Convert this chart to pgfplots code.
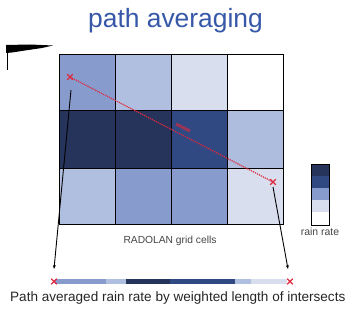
\documentclass[border=0pt]{standalone}
\usepackage{pgfplots}
\pgfplotsset{compat=1.18}
\usepackage{fontspec}
\setmainfont{Liberation Sans}
\usetikzlibrary{arrows.meta}
\definecolor{titleblue}{RGB}{55,88,168}
\definecolor{cA}{RGB}{38,52,92}
\definecolor{cB}{RGB}{48,73,130}
\definecolor{cC}{RGB}{135,155,205}
\definecolor{cD}{RGB}{176,190,223}
\definecolor{cE}{RGB}{216,222,237}
\definecolor{redx}{RGB}{225,40,60}
\definecolor{txtgray}{RGB}{70,70,70}
\begin{document}
\begin{tikzpicture}
\begin{axis}[scale only axis, width=346bp, height=315bp,
  xmin=0, xmax=346, ymin=0, ymax=315, y dir=reverse,
  hide axis, clip=false]
% background to fix the picture size
\addplot[draw=none, fill=white] coordinates {(0,0) (346,0) (346,315) (0,315)} --cycle;
% black swoosh top left
\addplot[draw=none, fill=black] coordinates {(6,45) (30,44.5) (53,45.5) (42,48) (25,50.5) (12,52.5) (6,53)} --cycle;
\addplot[black, line width=0.8pt] coordinates {(7,52) (7,70)};
% grid cells, row 1
\addplot[fill=cC, draw=black, line width=1pt] coordinates {(59,54) (115,54) (115,110) (59,110)} --cycle;
\addplot[fill=cD, draw=black, line width=1pt] coordinates {(115,54) (171,54) (171,110) (115,110)} --cycle;
\addplot[fill=cE, draw=black, line width=1pt] coordinates {(171,54) (227,54) (227,110) (171,110)} --cycle;
\addplot[fill=white, draw=black, line width=1pt] coordinates {(227,54) (283,54) (283,110) (227,110)} --cycle;
% row 2
\addplot[fill=cA, draw=black, line width=1pt] coordinates {(59,110) (115,110) (115,168) (59,168)} --cycle;
\addplot[fill=cA, draw=black, line width=1pt] coordinates {(115,110) (171,110) (171,168) (115,168)} --cycle;
\addplot[fill=cB, draw=black, line width=1pt] coordinates {(171,110) (227,110) (227,168) (171,168)} --cycle;
\addplot[fill=cD!95!cC, draw=black, line width=1pt] coordinates {(227,110) (283,110) (283,168) (227,168)} --cycle;
% row 3
\addplot[fill=cD, draw=black, line width=1pt] coordinates {(59,168) (115,168) (115,224) (59,224)} --cycle;
\addplot[fill=cC, draw=black, line width=1pt] coordinates {(115,168) (171,168) (171,224) (115,224)} --cycle;
\addplot[fill=cC, draw=black, line width=1pt] coordinates {(171,168) (227,168) (227,224) (171,224)} --cycle;
\addplot[fill=cE, draw=black, line width=1pt] coordinates {(227,168) (283,168) (283,224) (227,224)} --cycle;
% red path
\addplot[redx, densely dotted, line width=1.2pt] coordinates {(70,77) (273,182)};
\addplot[redx, line width=3pt, opacity=0.6] coordinates {(176,124) (190,131)};
\addplot[redx, only marks, mark=x, mark size=4pt, mark options={line width=1.2pt}] coordinates {(70,77) (273,182)};
% black arrows
\addplot[black, line width=0.9pt, -{Stealth[length=4pt]}] coordinates {(71,90) (54,269)};
\addplot[black, line width=0.9pt, -{Stealth[length=4pt]}] coordinates {(273,187) (288,269)};
% colour bar
\addplot[fill=cA, draw=none] coordinates {(311,164) (329,164) (329,176) (311,176)} --cycle;
\addplot[fill=cB, draw=none] coordinates {(311,176) (329,176) (329,188) (311,188)} --cycle;
\addplot[fill=cC, draw=none] coordinates {(311,188) (329,188) (329,200) (311,200)} --cycle;
\addplot[fill=cE, draw=none] coordinates {(311,200) (329,200) (329,212) (311,212)} --cycle;
\addplot[fill=white, draw=none] coordinates {(311,212) (329,212) (329,225) (311,225)} --cycle;
\addplot[draw=black, line width=1pt] coordinates {(311,164) (329,164) (329,225) (311,225)} --cycle;
% bottom bar
\addplot[fill=cC, draw=none] coordinates {(55,278.5) (106,278.5) (106,283.5) (55,283.5)} --cycle;
\addplot[fill=cD, draw=none] coordinates {(106,278.5) (126,278.5) (126,283.5) (106,283.5)} --cycle;
\addplot[fill=cA, draw=none] coordinates {(126,278.5) (170,278.5) (170,283.5) (126,283.5)} --cycle;
\addplot[fill=cB, draw=none] coordinates {(170,278.5) (235,278.5) (235,283.5) (170,283.5)} --cycle;
\addplot[fill=cD, draw=none] coordinates {(235,278.5) (251,278.5) (251,283.5) (235,283.5)} --cycle;
\addplot[fill=cE, draw=none] coordinates {(251,278.5) (287,278.5) (287,283.5) (251,283.5)} --cycle;
\addplot[redx, only marks, mark=x, mark size=4pt, mark options={line width=1.1pt}] coordinates {(54,281.5) (290,281.5)};
% texts
\node[text=titleblue, font=\fontsize{26.5}{30}\selectfont, anchor=base] at (axis cs:175.5,27.5) {path averaging};
\node[text=txtgray, font=\fontsize{10.3}{12}\selectfont, anchor=base] at (axis cs:170,243) {RADOLAN grid cells};
\node[text=txtgray, font=\fontsize{10.5}{12}\selectfont, anchor=base] at (axis cs:320,235.5) {rain rate};
\node[text=black!85, font=\fontsize{13.6}{15}\selectfont, anchor=base west, inner sep=0pt] at (axis cs:10,301.5) {Path averaged rain rate by weighted length of intersects};
\end{axis}
\end{tikzpicture}
\end{document}
